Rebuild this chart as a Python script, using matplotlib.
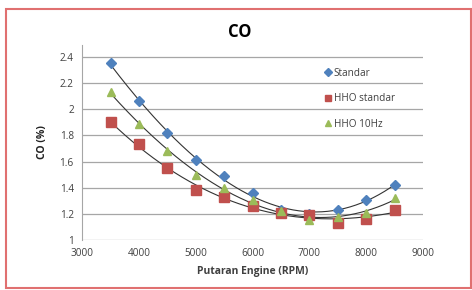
import numpy as np
import matplotlib.pyplot as plt
from matplotlib.patches import Rectangle

plt.rcParams['font.family'] = ['Open Sans', 'DejaVu Sans']

rpm = [3500, 4000, 4500, 5000, 5500, 6000, 6500, 7000, 7500, 8000, 8500]
standar = [2.35, 2.06, 1.82, 1.61, 1.49, 1.36, 1.23, 1.20, 1.23, 1.31, 1.42]
hho_standar = [1.90, 1.73, 1.55, 1.38, 1.33, 1.26, 1.21, 1.19, 1.13, 1.16, 1.23]
hho_10hz = [2.13, 1.89, 1.68, 1.50, 1.40, 1.31, 1.22, 1.15, 1.18, 1.21, 1.32]

series = [
    ('Standar', standar, 'D', '#4F81BD', 5),
    ('HHO standar', hho_standar, 's', '#C0504D', 6.5),
    ('HHO 10Hz', hho_10hz, '^', '#9BBB59', 6),
]

fig = plt.figure(figsize=(4.72, 2.9), dpi=100)
ax = fig.add_axes([0.174, 0.172, 0.722, 0.673])

# trendlines (polynomial, like the Excel original)
xs = np.linspace(3500, 8500, 200)
for name, vals, mk, col, ms in series:
    coef = np.polyfit(rpm, vals, 3)
    ax.plot(xs, np.polyval(coef, xs), color='#333333', lw=0.8, zorder=2)
for name, vals, mk, col, ms in series:
    ax.plot(rpm, vals, linestyle='none', marker=mk, color=col, ms=ms,
            label=name, zorder=3)

ax.set_xlim(3000, 9000)
ax.set_ylim(1, 2.49)
ax.set_xticks(range(3000, 9001, 1000))
ax.set_yticks([1, 1.2, 1.4, 1.6, 1.8, 2, 2.2, 2.4])
ax.set_yticklabels(['1', '1.2', '1.4', '1.6', '1.8', '2', '2.2', '2.4'])
ax.yaxis.grid(True, color='#A6A6A6', lw=0.9)
ax.set_axisbelow(True)
for s in ['top', 'right', 'bottom']:
    ax.spines[s].set_visible(False)
ax.spines['left'].set_color('#A6A6A6')
ax.tick_params(length=0, labelsize=7.2, labelcolor='#404040', pad=6)

ax.set_xlabel('Putaran Engine (RPM)', fontsize=7.5, fontweight='bold', color='#404040', labelpad=5)
ax.set_ylabel('CO (%)', fontsize=7.5, fontweight='bold', color='#202020', labelpad=8)
fig.text(0.508, 0.89, 'CO', ha='center', va='center', fontsize=12, fontweight='bold')

leg = ax.legend(loc='upper left', bbox_to_anchor=(0.68, 0.93), frameon=False,
                fontsize=7.2, handletextpad=0.1, labelspacing=1.45,
                handlelength=1.0, markerscale=0.75)
for t in leg.get_texts():
    t.set_color('#404040')

fig.patches.append(Rectangle((0.012, 0.008), 0.985, 0.962, transform=fig.transFigure,
                             fill=False, edgecolor='#E07070', lw=1.5))

fig.savefig('out.png', dpi=100)
